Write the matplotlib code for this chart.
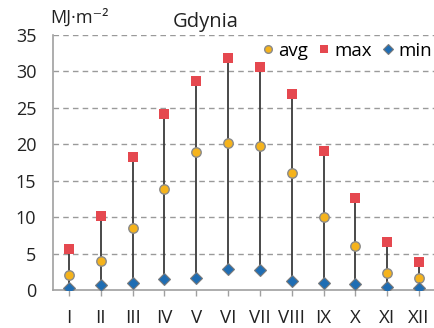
import matplotlib.pyplot as plt
from matplotlib.lines import Line2D
import numpy as np

plt.rcParams['font.family'] = ['Open Sans', 'DejaVu Sans']

months = ["I", "II", "III", "IV", "V", "VI", "VII", "VIII", "IX", "X", "XI", "XII"]
avg_vals = [2.1, 4.0, 8.5, 13.9, 18.9, 20.2, 19.8, 16.1, 10.0, 6.1, 2.4, 1.6]
max_vals = [5.6, 10.1, 18.3, 24.2, 28.7, 31.8, 30.6, 26.9, 19.1, 12.6, 6.6, 3.9]
min_vals = [0.3, 0.7, 1.0, 1.5, 1.7, 2.9, 2.8, 1.3, 0.9, 0.8, 0.4, 0.3]

x = np.arange(len(months))

avg_style = dict(marker="o", color="#f5b31c", markeredgecolor="#8a8a8a", markeredgewidth=1.0)
max_style = dict(marker="s", color="#e5484f", markeredgecolor="#e5484f", markeredgewidth=0)
min_style = dict(marker="D", color="#1f6db3", markeredgecolor="#7a7a7a", markeredgewidth=0.8)

fig = plt.figure(figsize=(4.35, 3.28), dpi=100)
ax = fig.add_axes([53 / 435, 38 / 328, 382 / 435, 255 / 328])

# whiskers from min to max
ax.vlines(x, min_vals, max_vals, color="#3a3a3a", lw=1.3, zorder=2)

ax.plot(x, max_vals, ls="none", markersize=7.5, zorder=3, **max_style)
ax.plot(x, avg_vals, ls="none", markersize=6.8, zorder=4, **avg_style)
ax.plot(x, min_vals, ls="none", markersize=6.3, zorder=4, **min_style)

ax.set_xlim(-0.5, 11.5)
ax.set_ylim(0, 35)
ax.set_yticks(range(0, 36, 5))
ax.set_xticks(x)
ax.set_xticklabels(months)
for v in range(5, 36, 5):
    ax.axhline(v, color="#9a9a9a", lw=1.0, ls=(0, (4, 3)), zorder=1)

for s in ["top", "right"]:
    ax.spines[s].set_visible(False)
ax.spines["left"].set_color("#a0a0a0")
ax.spines["bottom"].set_color("#a0a0a0")
ax.spines["left"].set_linewidth(1.2)
ax.spines["bottom"].set_linewidth(1.2)
ax.tick_params(axis="y", length=0, pad=12, labelsize=13, colors="#222222")
ax.tick_params(axis="x", length=4, width=1.0, color="#a0a0a0", pad=10,
               labelsize=13.5, labelcolor="#222222")

fig.text(50 / 435, 1 - 18 / 328, "MJ·m⁻²", fontsize=13, va="center", ha="left",
         color="#222222")
fig.text(206 / 435, 1 - 22 / 328, "Gdynia", fontsize=14.5, va="center", ha="center",
         color="#222222")

handles = [
    Line2D([], [], ls="none", markersize=5.5, **avg_style),
    Line2D([], [], ls="none", markersize=6, **max_style),
    Line2D([], [], ls="none", markersize=5.5, **min_style),
]
fig.legend(handles, ["avg", "max", "min"],
           loc="center right", bbox_to_anchor=(432 / 435, 1 - 51 / 328), ncol=3,
           frameon=False, fontsize=13.5, handlelength=0.6, handletextpad=0.25,
           columnspacing=0.55, borderaxespad=0, borderpad=0)

fig.savefig("out.png", dpi=100)
